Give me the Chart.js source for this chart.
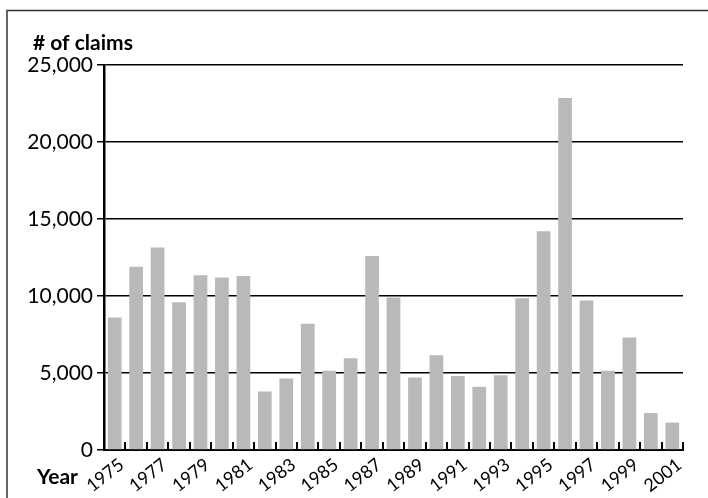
<!DOCTYPE html>
<html>
<head>
<meta charset="utf-8">
<script src="https://cdn.jsdelivr.net/npm/chart.js@4.4.0/dist/chart.umd.min.js"></script>
<style>
  html, body { margin: 0; padding: 0; background: #fff; }
  #wrap { width: 708px; height: 498px; position: relative; }
</style>
</head>
<body>
<div id="wrap"><canvas id="claimsChart"></canvas></div>
<script>
const years = ['1975','1976','1977','1978','1979','1980','1981','1982','1983','1984',
  '1985','1986','1987','1988','1989','1990','1991','1992','1993','1994',
  '1995','1996','1997','1998','1999','2000','2001'];
const claims = [8600, 11900, 13150, 9600, 11350, 11200, 11300, 3800, 4650, 8200,
  5150, 5950, 12600, 9900, 4700, 6150, 4800, 4100, 4850, 9850,
  14200, 22850, 9700, 5150, 7300, 2400, 1780];
const yTicks = [0, 5000, 10000, 15000, 20000, 25000];

const FONT = 'Lato, "Open Sans", sans-serif';

// рамка, подписи осей и засечки внутрь по оси X
const extras = {
    id: 'extras',
    afterDraw(chart) {
        const ctx = chart.ctx;
        const x = chart.scales.x;
        const area = chart.chartArea;
        ctx.save();
        ctx.strokeStyle = '#000';
        ctx.lineWidth = 2;
        for (let i = 1; i <= years.length; i++) {
            const px = Math.round(x.getPixelForValue(i - 0.5));
            ctx.beginPath();
            ctx.moveTo(px, area.bottom);
            ctx.lineTo(px, area.bottom - 8);
            ctx.stroke();
        }
        // рамка
        ctx.strokeStyle = '#333';
        ctx.lineWidth = 1.5;
        ctx.beginPath();
        ctx.moveTo(7, 498);
        ctx.lineTo(7, 10.5);
        ctx.lineTo(708, 10.5);
        ctx.stroke();

        ctx.fillStyle = '#000';
        ctx.font = 'bold 21px ' + FONT;
        ctx.textBaseline = 'alphabetic';
        ctx.textAlign = 'left';
        ctx.fillText('# of claims', 33, 50);
        ctx.fillText('Year', 37, 484);
        ctx.restore();
    }
};

new Chart(document.getElementById('claimsChart'), {
    type: 'bar',
    data: {
        labels: years,
        datasets: [{
            data: claims,
            backgroundColor: '#b9b9b9',
            borderWidth: 0,
            barPercentage: 0.64,
            categoryPercentage: 1
        }]
    },
    options: {
        responsive: true,
        maintainAspectRatio: false,
        animation: false,
        layout: { padding: { top: 65, right: 25, left: 0, bottom: 0 } },
        plugins: { legend: { display: false }, tooltip: { enabled: false } },
        scales: {
            x: {
                offset: true,
                grid: { display: false },
                border: { display: true, color: '#000', width: 2 },
                afterFit(scale) { scale.height = 48; },
                ticks: {
                    autoSkip: false,
                    maxRotation: 38,
                    minRotation: 38,
                    padding: -4,
                    labelOffset: 7,
                    color: '#000',
                    font: { family: FONT, size: 18 },
                    callback(value, index) {
                        return index % 2 === 0 ? years[index] : '';
                    }
                }
            },
            y: {
                min: 0,
                max: 25000,
                afterFit(scale) { scale.width = 104; },
                afterBuildTicks(scale) {
                    scale.ticks = yTicks.map(v => ({ value: v }));
                },
                grid: { color: '#000', lineWidth: 1.5, tickLength: 7 },
                border: { display: true, color: '#000', width: 2.5 },
                ticks: {
                    color: '#000',
                    padding: 4,
                    font: { family: FONT, size: 21 },
                    callback: v => v.toLocaleString('en-US')
                }
            }
        }
    },
    plugins: [extras]
});
</script>
</body>
</html>
